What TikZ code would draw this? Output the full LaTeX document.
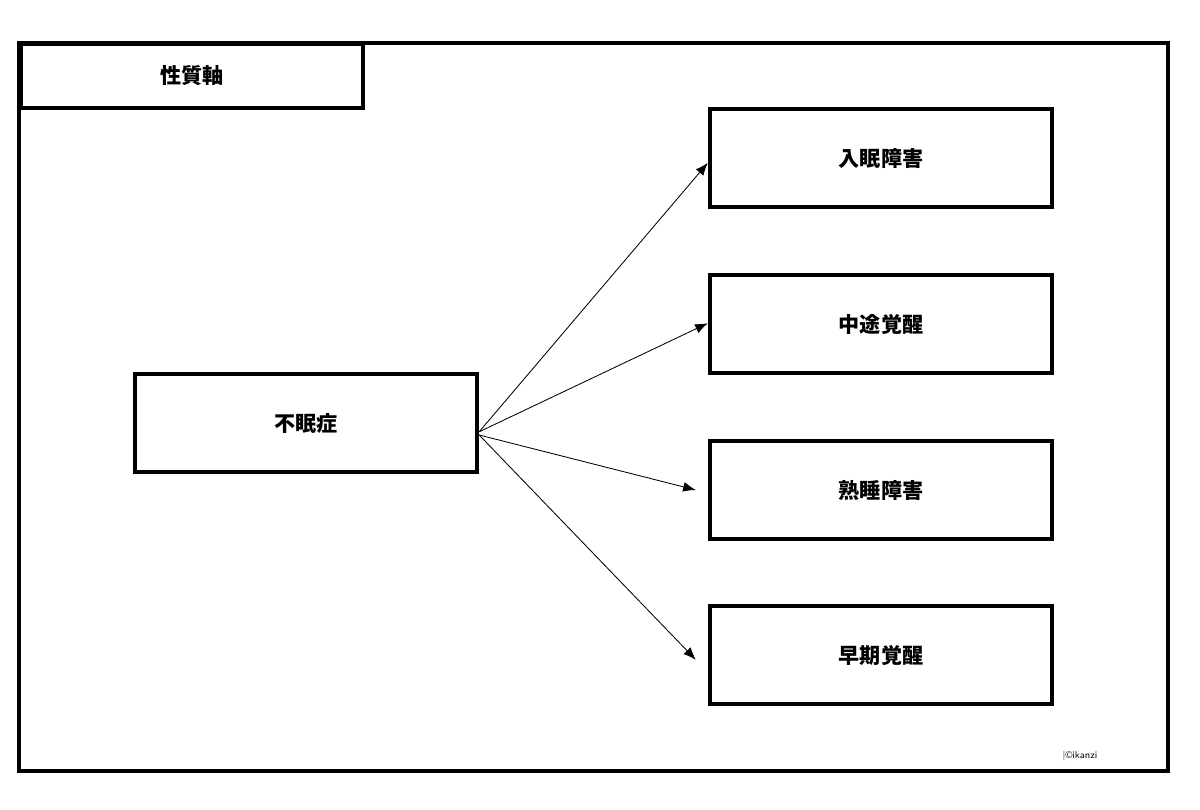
\documentclass[tikz,border=0pt]{standalone}
\usepackage{fontspec}
\newfontfamily\cjk{Noto Sans CJK JP}
\usetikzlibrary{arrows.meta, positioning}

\begin{document}
\begin{tikzpicture}[
    x=0.025cm, y=-0.025cm,
    typebox/.style={rectangle, draw=black, line width=3pt, fill=white, minimum width=8.55cm, minimum height=2.45cm, font=\cjk\bfseries\fontsize{15}{18}\selectfont},
    link/.style={-{Latex[length=9pt,width=7pt]}, line width=0.6pt}
]
\useasboundingbox (0,0) rectangle (1200,809);
% frame and axis label
\draw[line width=3pt] (19,43) rectangle (1168,771);
\node[typebox, minimum width=8.55cm, minimum height=1.6cm] (axis) at (192,76) {性質軸};

% source and types
\node[typebox] (insomnia) at (306,423) {不眠症};
\node[typebox] (onset) at (881,158) {入眠障害};
\node[typebox] (middle) at (881,324) {中途覚醒};
\node[typebox] (deep) at (881,490) {熟睡障害};
\node[typebox] (early) at (881,655) {早期覚醒};

\draw[link] ([yshift=-0.22cm]insomnia.east) -- ([yshift=-0.12cm]onset.west);
\draw[link] ([yshift=-0.22cm]insomnia.east) -- ([yshift=0.02cm]middle.west);
\draw[link] ([yshift=-0.3cm]insomnia.east) -- ([xshift=-0.3cm]deep.west);
\draw[link] ([yshift=-0.3cm]insomnia.east) -- ([xshift=-0.3cm,yshift=-0.12cm]early.west);

\node[font=\sffamily\scriptsize] (credit) at (1080,756) {|\textcopyright ikanzi};
\end{tikzpicture}
\end{document}
